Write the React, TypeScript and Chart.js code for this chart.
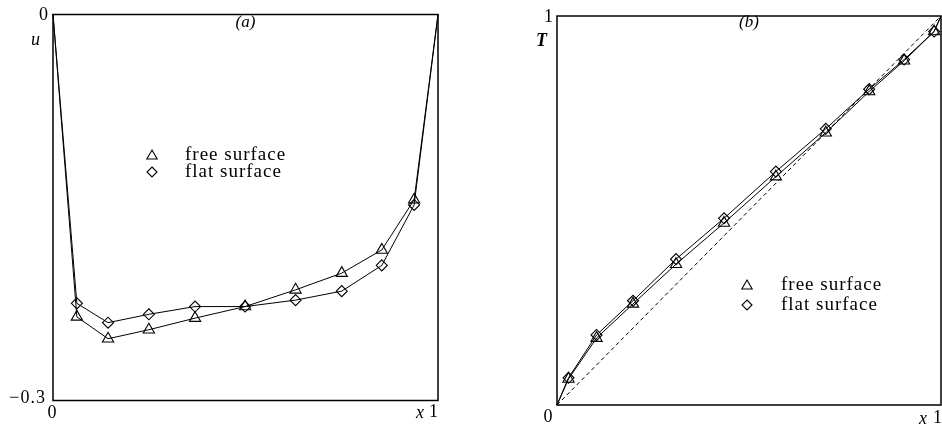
import { useEffect, useRef } from 'react';
import { Chart, registerables } from 'chart.js';

Chart.register(...registerables);

const SERIF = '"Liberation Serif", "Times New Roman", serif';

// (a) velocity profile u(x)
const velocityX = [0, 0.062, 0.143, 0.249, 0.369, 0.499, 0.63, 0.75, 0.854, 0.938, 1];
const velocityFree = [0, -0.235, -0.252, -0.245, -0.236, -0.227, -0.214, -0.201, -0.183, -0.144, 0];
const velocityFlat = [0, -0.2245, -0.2395, -0.233, -0.227, -0.227, -0.222, -0.215, -0.195, -0.148, 0];

// (b) temperature profile T(x)
const temperatureX = [0, 0.03, 0.103, 0.198, 0.31, 0.435, 0.57, 0.7, 0.813, 0.904, 0.982, 1];
const temperatureFree = [0, 0.067, 0.172, 0.26, 0.362, 0.468, 0.587, 0.7, 0.806, 0.885, 0.96, 1];
const temperatureFlat = [0, 0.07, 0.18, 0.268, 0.375, 0.48, 0.6, 0.71, 0.812, 0.888, 0.96, 1];

// pure conduction reference line T = x
const conductionX = [0, 1];
const conductionT = [0, 1];

const legendLabels = ['free surface', 'flat surface'];
const velocityTicksY = ['0', '\u22120.3'];
const temperatureTicksY = ['1', '0'];
const ticksX = ['0', '1'];

type Ctx = CanvasRenderingContext2D;

function text(ctx: Ctx, s: string, x: number, y: number, font: string, align: CanvasTextAlign = 'center', spacing = '0px') {
  ctx.save();
  ctx.font = font;
  ctx.textAlign = align;
  ctx.textBaseline = 'middle';
  (ctx as any).letterSpacing = spacing;
  ctx.fillStyle = '#000';
  ctx.fillText(s, x, y);
  ctx.restore();
}

function triangle(ctx: Ctx, x: number, y: number, r: number) {
  ctx.beginPath();
  ctx.moveTo(x, y - r);
  ctx.lineTo(x + r * Math.sin(Math.PI / 3 * 2), y + r / 2);
  ctx.lineTo(x - r * Math.sin(Math.PI / 3 * 2), y + r / 2);
  ctx.closePath();
  ctx.stroke();
}

function diamond(ctx: Ctx, x: number, y: number, r: number) {
  ctx.beginPath();
  ctx.moveTo(x, y - r);
  ctx.lineTo(x + r, y);
  ctx.lineTo(x, y + r);
  ctx.lineTo(x - r, y);
  ctx.closePath();
  ctx.stroke();
}

function drawLegend(ctx: Ctx, markerX: number, textX: number, y0: number, gap: number) {
  ctx.save();
  ctx.strokeStyle = '#000';
  ctx.lineWidth = 1.1;
  triangle(ctx, markerX, y0 + 1, 6);
  diamond(ctx, markerX, y0 + gap, 5);
  ctx.restore();
  const f = `19px ${SERIF}`;
  text(ctx, legendLabels[0], textX, y0, f, 'left', '1px');
  text(ctx, legendLabels[1], textX, y0 + gap, f, 'left', '1px');
}

const framePlugin = {
  id: 'frame',
  beforeDatasetsDraw(chart: any) {
    const { ctx, chartArea: a } = chart;
    ctx.save();
    ctx.strokeStyle = '#000';
    ctx.lineWidth = 1.5;
    ctx.strokeRect(a.left, a.top, a.right - a.left, a.bottom - a.top);
    ctx.restore();
  },
};

function seriesDataset(label: string, xs: number[], ys: number[], style: 'triangle' | 'rectRot', r: number) {
  return {
    label,
    data: xs.map((x, i) => ({ x, y: ys[i] })),
    borderColor: '#000',
    borderWidth: 1,
    pointStyle: style,
    pointRadius: xs.map((x) => (x === 0 || x === 1 ? 0 : r)),
    pointBorderColor: '#000',
    pointBackgroundColor: 'rgba(0,0,0,0)',
    pointBorderWidth: 1.1,
    tension: 0,
    clip: false,
  };
}

function baseOptions(padding: any, yMin: number, yMax: number) {
  return {
    responsive: false,
    animation: false,
    events: [],
    layout: { padding },
    scales: {
      x: { type: 'linear', min: 0, max: 1, display: false },
      y: { type: 'linear', min: yMin, max: yMax, display: false },
    },
    plugins: { legend: { display: false }, tooltip: { enabled: false } },
  };
}

const tickFont = `18px ${SERIF}`;
const italic = `italic 18px ${SERIF}`;

function velocityConfig(): any {
  return {
    type: 'line',
    data: {
      datasets: [
        seriesDataset(legendLabels[0], velocityX, velocityFree, 'triangle', 6.5),
        seriesDataset(legendLabels[1], velocityX, velocityFlat, 'rectRot', 5.5),
      ],
    },
    options: baseOptions({ left: 53, right: 33, top: 14.5, bottom: 25.5 }, -0.3, 0),
    plugins: [
      framePlugin,
      {
        id: 'velocityText',
        afterDraw(chart: any) {
          const { ctx } = chart;
          const xs = chart.scales.x;
          const ys = chart.scales.y;
          text(ctx, velocityTicksY[0], xs.left - 5, ys.getPixelForValue(0) + 1, tickFont, 'right');
          text(ctx, velocityTicksY[1], xs.left - 7, ys.getPixelForValue(-0.3) - 2, tickFont, 'right', '1px');
          text(ctx, ticksX[0], xs.getPixelForValue(0) - 1, ys.bottom + 13, tickFont);
          text(ctx, ticksX[1], xs.getPixelForValue(1), ys.bottom + 12, tickFont, 'right');
          text(ctx, 'x', xs.getPixelForValue(1) - 18, ys.bottom + 13, italic);
          text(ctx, 'u', xs.left - 13, ys.top + 26, italic, 'right');
          text(ctx, '(a)', xs.getPixelForValue(0.5), ys.top + 8, `italic 17px ${SERIF}`);
          drawLegend(ctx, 152, 185, 155, 17);
        },
      },
    ],
  };
}

function temperatureConfig(): any {
  return {
    type: 'line',
    data: {
      datasets: [
        seriesDataset(legendLabels[0], temperatureX, temperatureFree, 'triangle', 6.5),
        seriesDataset(legendLabels[1], temperatureX, temperatureFlat, 'rectRot', 5.5),
        {
          label: 'conduction',
          data: conductionX.map((x, i) => ({ x, y: conductionT[i] })),
          borderColor: '#000',
          borderWidth: 1,
          borderDash: [4, 3],
          pointRadius: 0,
          tension: 0,
        },
      ],
    },
    options: baseOptions({ left: 86, right: 1, top: 16, bottom: 21 }, 0, 1),
    plugins: [
      framePlugin,
      {
        id: 'temperatureText',
        afterDraw(chart: any) {
          const { ctx } = chart;
          const xs = chart.scales.x;
          const ys = chart.scales.y;
          text(ctx, temperatureTicksY[0], xs.left - 4, ys.getPixelForValue(1) + 1, tickFont, 'right');
          text(ctx, temperatureTicksY[1], xs.left - 9, ys.bottom + 12, tickFont);
          text(ctx, ticksX[1], xs.getPixelForValue(1) + 1, ys.bottom + 13, tickFont, 'right');
          text(ctx, 'x', xs.getPixelForValue(1) - 18, ys.bottom + 14, italic);
          text(ctx, 'T', xs.left - 10, ys.top + 25, `italic bold 18px ${SERIF}`, 'right');
          text(ctx, '(b)', xs.getPixelForValue(0.5), ys.top + 7, `italic 17px ${SERIF}`);
          drawLegend(ctx, 747 - 471, 781 - 471, 285, 20);
        },
      },
    ],
  };
}

function Panel({ left, width, height, config }: { left: number; width: number; height: number; config: () => any }) {
  const ref = useRef<HTMLCanvasElement>(null);
  useEffect(() => {
    const chart = new Chart(ref.current as HTMLCanvasElement, config());
    return () => chart.destroy();
  }, [config]);
  return (
    <canvas
      ref={ref}
      width={width}
      height={height}
      style={{ position: 'absolute', left, top: 0, width, height }}
    />
  );
}

export default function App() {
  return (
    <div style={{ position: 'absolute', left: 0, top: 0, width: 942, height: 426, background: '#fff' }}>
      <Panel left={0} width={471} height={426} config={velocityConfig} />
      <Panel left={471} width={471} height={426} config={temperatureConfig} />
    </div>
  );
}
